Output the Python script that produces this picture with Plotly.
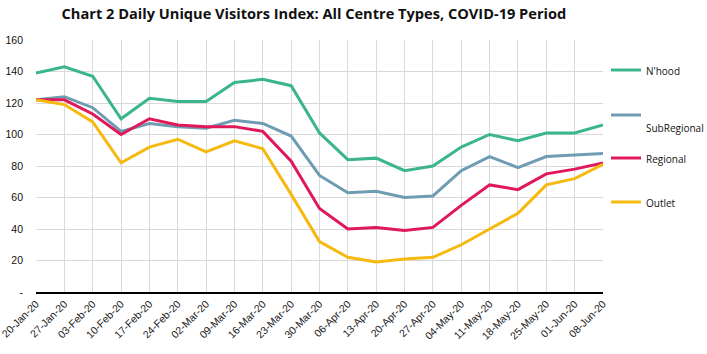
import plotly.graph_objects as go

dates = ["20-Jan-20","27-Jan-20","03-Feb-20","10-Feb-20","17-Feb-20","24-Feb-20","02-Mar-20",
         "09-Mar-20","16-Mar-20","23-Mar-20","30-Mar-20","06-Apr-20","13-Apr-20","20-Apr-20",
         "27-Apr-20","04-May-20","11-May-20","18-May-20","25-May-20","01-Jun-20","08-Jun-20"]
nhood = [139,143,137,110,123,121,121,133,135,131,101,84,85,77,80,92,100,96,101,101,106]
subregional = [122,124,117,102,107,105,104,109,107,99,74,63,64,60,61,77,86,79,86,87,88]
regional = [122,122,113,100,110,106,105,105,102,83,53,40,41,39,41,55,68,65,75,78,82]
outlet = [122,119,108,82,92,97,89,96,91,62,32,22,19,21,22,30,40,50,68,72,81]

series = [("N'hood", nhood, "#3BB58E", "legend", 71),
          ("&nbsp;<br>SubRegional", subregional, "#6E9CB3", "legend2", 116),
          ("Regional", regional, "#E0195A", "legend3", 159),
          ("Outlet", outlet, "#F5B90F", "legend4", 203)]

H = 354
fig = go.Figure()
legend_layout = {}
for i, (name, vals, col, lg, ypx) in enumerate(series):
    fig.add_trace(go.Scatter(x=list(range(len(dates))), y=vals, mode="lines", name=name,
                             line=dict(color=col, width=3), legend=lg))
    legend_layout[lg] = dict(xref="container", yref="container",
                             x=606 / 707, y=1 - (ypx - 14) / H, xanchor="left", yanchor="top",
                             valign="top",
                             font=dict(size=10, family="Open Sans, sans-serif", color="#111111"),
                             bgcolor="rgba(0,0,0,0)", itemwidth=30)

fig.update_layout(
    width=707, height=H,
    margin=dict(l=36, r=104, t=40, b=62),
    plot_bgcolor="white", paper_bgcolor="white",
    font=dict(family="Open Sans, Liberation Sans, sans-serif", color="#000000"),
    title=dict(text="<b>Chart 2 Daily Unique Visitors Index: All Centre Types, COVID-19 Period</b>",
               x=0.444, xanchor="center", y=0.96, yanchor="middle",
               font=dict(size=14.6, family="Open Sans, sans-serif", color="#111111")),
    showlegend=True,
    **legend_layout,
)
fig.update_xaxes(
    tickmode="array", tickvals=list(range(len(dates))), ticktext=dates,
    tickangle=-45, range=[0, len(dates) - 1], automargin=False, ticklabeloverflow="allow",
    showgrid=True, gridcolor="#D9D9D9", gridwidth=1,
    showline=True, linecolor="#000000", linewidth=1.5,
    tickfont=dict(size=10.5, family="Liberation Sans, sans-serif", color="#222222"),
    zeroline=False, ticks="",
)
fig.update_yaxes(
    range=[0, 160], tickmode="array", tickvals=[0,20,40,60,80,100,120,140,160],
    ticktext=["-","20","40","60","80","100","120","140","160"], automargin=False,
    showgrid=True, gridcolor="#D9D9D9", gridwidth=1, zeroline=False,
    showline=False, tickfont=dict(size=10.5, family="Liberation Sans, sans-serif", color="#111111"),
    ticks="", ticklabelstandoff=12,
)
fig.write_html("out.html")
